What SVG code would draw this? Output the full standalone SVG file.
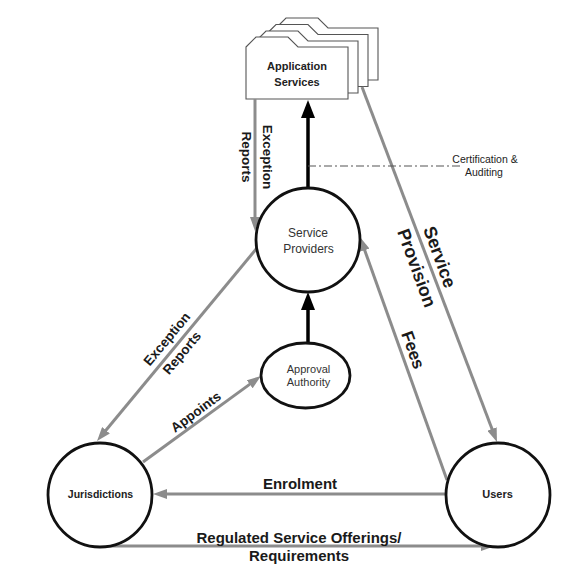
<svg xmlns="http://www.w3.org/2000/svg" width="572" height="564" viewBox="0 0 572 564">
  <style>
    .node { fill: #fff; stroke: #111; stroke-width: 2.8; }
    .folder { fill: #fff; stroke: #555; stroke-width: 1.1; }
    .gray { fill: none; stroke: #8c8c8c; stroke-width: 3; }
    .black { fill: none; stroke: #000; stroke-width: 3.5; }
    .dashdot { fill: none; stroke: #555; stroke-width: 1.2; stroke-dasharray: 8 3 2 3; }
    text { font-family: "Liberation Sans", Arial, sans-serif; fill: #222; }
    .nb { font-weight: bold; font-size: 11px; text-anchor: middle; }
    .nr { font-size: 12px; text-anchor: middle; fill: #333; }
    .lbl { font-weight: bold; font-size: 15px; text-anchor: middle; fill: #1a1a1a; }
    .lbls { font-weight: bold; font-size: 13.5px; text-anchor: middle; fill: #1a1a1a; }
    .lblb { font-weight: bold; font-size: 18px; text-anchor: middle; fill: #1a1a1a; }
    .note { font-size: 10.5px; text-anchor: middle; fill: #222; }
  </style>
  <defs>
    <marker id="ag" markerWidth="14" markerHeight="10" refX="2" refY="5" orient="auto" markerUnits="userSpaceOnUse">
      <path d="M0,0 L14,5 L0,10 z" fill="#8c8c8c"/>
    </marker>
    <marker id="ab" markerWidth="18" markerHeight="14" refX="3" refY="7" orient="auto" markerUnits="userSpaceOnUse">
      <path d="M0,0 L18,7 L0,14 z" fill="#000"/>
    </marker>
    <path id="folder" d="M0,10 L10,0 L42,0 L52,10 L102,10 L102,62 L0,62 Z"/>
  </defs>
  <rect width="572" height="564" fill="#fff"/>

  <g id="app-services">
    <use href="#folder" class="folder" transform="translate(276,18)"/>
    <use href="#folder" class="folder" transform="translate(266,24.5)"/>
    <use href="#folder" class="folder" transform="translate(256,31)"/>
    <use href="#folder" class="folder" transform="translate(246,37)"/>
    <text class="nb" x="297" y="70">Application</text>
    <text class="nb" x="297" y="86">Services</text>
  </g>

  <g id="connectors">
    <line class="black" x1="308" y1="188" x2="308" y2="115" marker-end="url(#ab)"/>
    <line class="black" x1="308" y1="343" x2="308" y2="307" marker-end="url(#ab)"/>
    <line class="gray" x1="255" y1="99" x2="255" y2="219" marker-end="url(#ag)"/>
    <line class="gray" x1="257" y1="248" x2="104.7" y2="431.8" marker-end="url(#ag)"/>
    <line class="gray" x1="143" y1="462" x2="251.3" y2="383.1" marker-end="url(#ag)"/>
    <line class="gray" x1="362" y1="87" x2="492.7" y2="430.8" marker-end="url(#ag)"/>
    <line class="gray" x1="447" y1="480" x2="364" y2="248.3" marker-end="url(#ag)"/>
    <line class="gray" x1="446" y1="494" x2="165" y2="494" marker-end="url(#ag)"/>
    <line class="gray" x1="98" y1="546" x2="483" y2="546" marker-end="url(#ag)"/>
    <line class="dashdot" x1="308" y1="166" x2="462" y2="166"/>

    <text class="lbls" transform="translate(263.3,157) rotate(90)">Exception</text>
    <text class="lbls" transform="translate(242.3,157) rotate(90)">Reports</text>
    <text class="lbls" transform="translate(170.4,341.9) rotate(-50.2)">Exception</text>
    <text class="lbls" transform="translate(185.4,355.9) rotate(-50.2)">Reports</text>
    <text class="lbls" transform="translate(198.6,415.6) rotate(-36.3)">Appoints</text>
    <text class="lblb" transform="translate(434,259) rotate(70)">Service</text>
    <text class="lblb" transform="translate(411,270) rotate(70)">Provision</text>
    <text class="lblb" style="font-size:17px" transform="translate(407.7,352) rotate(70)">Fees</text>
    <text class="lbl" x="300" y="489">Enrolment</text>
    <text class="lbl" x="299" y="543">Regulated Service Offerings/</text>
    <text class="lbl" x="299" y="561">Requirements</text>
  </g>

  <g id="certification">
    <text class="note" x="485" y="163">Certification &amp;</text>
    <text class="note" x="484" y="176">Auditing</text>
  </g>

  <g id="service-providers">
    <circle class="node" cx="308" cy="240" r="52"/>
    <text class="nr" x="308" y="237">Service</text>
    <text class="nr" x="308.5" y="253">Providers</text>
  </g>

  <g id="approval-authority">
    <ellipse class="node" cx="305.5" cy="375.5" rx="44.5" ry="32.5"/>
    <text class="nr" style="font-size:11px" x="308.5" y="373">Approval</text>
    <text class="nr" style="font-size:11px" x="308.5" y="386">Authority</text>
  </g>

  <g id="jurisdictions">
    <circle class="node" cx="100" cy="495" r="52"/>
    <text class="nb" style="font-size:10.5px" x="100.5" y="498">Jurisdictions</text>
  </g>

  <g id="users">
    <circle class="node" cx="498" cy="495" r="52"/>
    <text class="nb" x="497.5" y="498">Users</text>
  </g>
</svg>
